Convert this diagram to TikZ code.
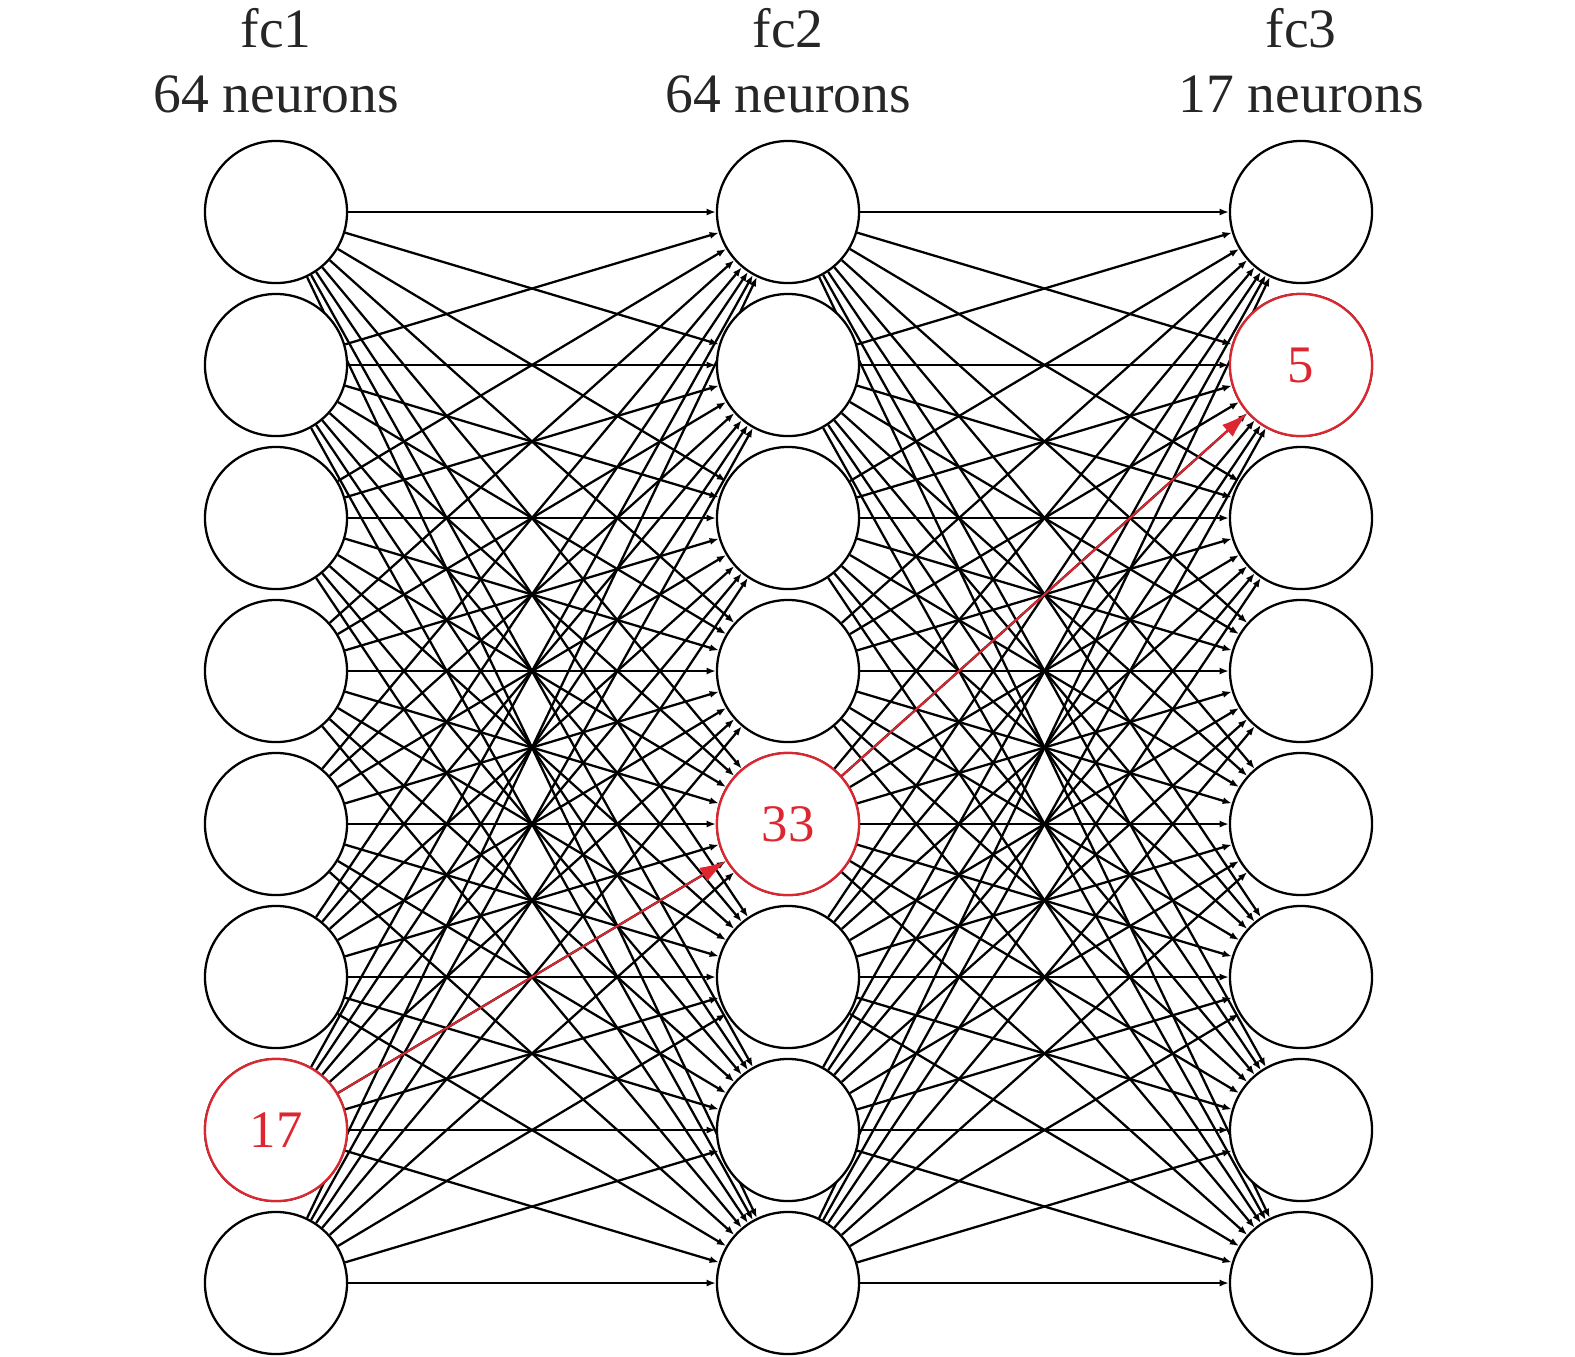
\documentclass[tikz,border=0pt]{standalone}
\usepackage{fontspec}
\setmainfont{Liberation Serif}
\usepackage{xcolor}
\usetikzlibrary{calc}
\usetikzlibrary{positioning}
\usetikzlibrary{arrows.meta}
\usetikzlibrary{backgrounds}
\definecolor{nred}{RGB}{222,38,48}

\begin{document}
\begin{tikzpicture}[x=0.01cm, y=-0.01cm,
  neuron/.style={draw, circle, line width=0.65pt, fill=white, minimum size=1.42cm, inner sep=0pt,
    font=\fontsize{15}{18}\selectfont},
  hot/.style={neuron, draw=nred, text=nred},
  title/.style={anchor=base, inner sep=0pt, font=\fontsize{15.8}{19}\selectfont, text=black!85},
  edge/.style={line width=0.65pt, -{Latex[length=2.6pt, width=2pt]}},
  redge/.style={line width=0.55pt, nred, -{Latex[length=7.5pt, width=4.5pt]}}]

\useasboundingbox (0,0) rectangle (1575,1356);

% layers
\foreach \i in {1,...,8} {
  \node[neuron] (a\i) at (276, 59+153*\i) {};
  \node[neuron] (b\i) at (788, 59+153*\i) {};
  \node[neuron] (c\i) at (1301, 59+153*\i) {};
}
\node[hot] (a7) at (276, 59+153*7) {17};
\node[hot] (b5) at (788, 59+153*5) {33};
\node[hot] (c2) at (1301, 59+153*2) {5};

% titles
\node[title] (t1) at (276, 47) {fc1};
\node[title] (n1) at (276, 112) {64 neurons};
\node[title] (t2) at (788, 47) {fc2};
\node[title] (n2) at (788, 112) {64 neurons};
\node[title] (t3) at (1301, 47) {fc3};
\node[title] (n3) at (1301, 112) {17 neurons};

% connections
\begin{scope}[on background layer]
\foreach \i in {1,...,8} {
  \foreach \j in {1,...,8} {
    \path[draw, edge] (a\i) -- (b\j);
    \path[draw, edge] (b\i) -- (c\j);
  }
}
\path[draw, redge] (a7) -- (b5);
\path[draw, redge] (b5) -- (c2);
\end{scope}

\end{tikzpicture}
\end{document}
